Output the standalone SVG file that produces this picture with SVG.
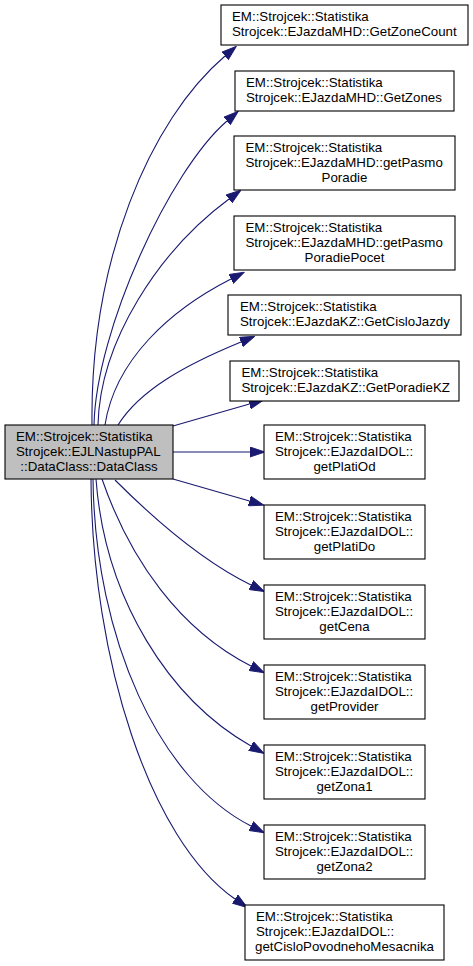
<svg xmlns="http://www.w3.org/2000/svg" width="473" height="966" viewBox="0 0 473 966">
<style>
.box{fill:#ffffff;stroke:#000000;stroke-width:1.1}
.main{fill:#bfbfbf;stroke:#000000;stroke-width:1.1}
text{font-family:"Liberation Sans",Arial,sans-serif;font-size:13.3px;fill:#000000}
.c{text-anchor:middle}
.e{fill:none;stroke:#191970;stroke-width:1.1}
</style>
<defs>
<marker id="ah" markerUnits="userSpaceOnUse" markerWidth="15" markerHeight="11" viewBox="0 0 14 10" refX="0" refY="5" orient="auto">
<path d="M0,0.3 L14,5 L0,9.7 z" fill="#191970" stroke="#191970" stroke-width="0.8"/>
</marker>
</defs>
<rect width="473" height="966" fill="#ffffff"/>
<g id="connectors">
<path class="e" marker-end="url(#ah)" d="M92,425 C90,260 150,120 225,56"/>
<path class="e" marker-end="url(#ah)" d="M94,425 C96,330 170,170 227,121"/>
<path class="e" marker-end="url(#ah)" d="M98,425 C100,340 160,250 229,199"/>
<path class="e" marker-end="url(#ah)" d="M105,425 C115,360 170,310 231,279"/>
<path class="e" marker-end="url(#ah)" d="M118,425 C140,390 185,365 241,342"/>
<path class="e" marker-end="url(#ah)" d="M173,426 L249.5,404"/>
<path class="e" marker-end="url(#ah)" d="M173,452 L250,452"/>
<path class="e" marker-end="url(#ah)" d="M173,479 L249.5,501"/>
<path class="e" marker-end="url(#ah)" d="M115,480 C150,515 200,560 251,585"/>
<path class="e" marker-end="url(#ah)" d="M102,479 C130,560 180,630 251,666"/>
<path class="e" marker-end="url(#ah)" d="M96,479 C105,600 170,700 251,746"/>
<path class="e" marker-end="url(#ah)" d="M93,479 C95,640 160,780 251,826"/>
<path class="e" marker-end="url(#ah)" d="M91,479 C92,660 150,840 235,899"/>
</g>
<g id="main">
<rect class="main" x="5" y="425" width="168" height="54"/>
<text x="16" y="441">EM::Strojcek::Statistika</text>
<text x="16" y="456">Strojcek::EJLNastupPAL</text>
<text class="c" x="89" y="471">::DataClass::DataClass</text>
</g>
<g id="n1">
<rect class="box" x="221" y="5" width="247" height="40"/>
<text x="232" y="21">EM::Strojcek::Statistika</text>
<text x="232" y="36">Strojcek::EJazdaMHD::GetZoneCount</text>
</g>
<g id="n2">
<rect class="box" x="235" y="71" width="219" height="40"/>
<text x="246" y="87">EM::Strojcek::Statistika</text>
<text x="246" y="102">Strojcek::EJazdaMHD::GetZones</text>
</g>
<g id="n3">
<rect class="box" x="234" y="136" width="221" height="54"/>
<text x="245.5" y="152">EM::Strojcek::Statistika</text>
<text x="245.5" y="167">Strojcek::EJazdaMHD::getPasmo</text>
<text class="c" x="344.5" y="182">Poradie</text>
</g>
<g id="n4">
<rect class="box" x="234" y="216" width="221" height="54"/>
<text x="245.5" y="232">EM::Strojcek::Statistika</text>
<text x="245.5" y="247">Strojcek::EJazdaMHD::getPasmo</text>
<text class="c" x="344.5" y="262">PoradiePocet</text>
</g>
<g id="n5">
<rect class="box" x="228" y="295" width="233" height="40"/>
<text x="240" y="311">EM::Strojcek::Statistika</text>
<text x="240" y="326">Strojcek::EJazdaKZ::GetCisloJazdy</text>
</g>
<g id="n6">
<rect class="box" x="230" y="361" width="229" height="40"/>
<text x="241.5" y="377">EM::Strojcek::Statistika</text>
<text x="241.5" y="392">Strojcek::EJazdaKZ::GetPoradieKZ</text>
</g>
<g id="n7">
<rect class="box" x="264" y="425" width="161" height="54"/>
<text x="275" y="441">EM::Strojcek::Statistika</text>
<text x="275" y="456">Strojcek::EJazdaIDOL::</text>
<text class="c" x="344.5" y="471">getPlatiOd</text>
</g>
<g id="n8">
<rect class="box" x="264" y="505" width="161" height="54"/>
<text x="275" y="521">EM::Strojcek::Statistika</text>
<text x="275" y="536">Strojcek::EJazdaIDOL::</text>
<text class="c" x="344.5" y="551">getPlatiDo</text>
</g>
<g id="n9">
<rect class="box" x="264" y="585" width="161" height="54"/>
<text x="275" y="601">EM::Strojcek::Statistika</text>
<text x="275" y="616">Strojcek::EJazdaIDOL::</text>
<text class="c" x="344.5" y="631">getCena</text>
</g>
<g id="n10">
<rect class="box" x="264" y="665" width="161" height="54"/>
<text x="275" y="681">EM::Strojcek::Statistika</text>
<text x="275" y="696">Strojcek::EJazdaIDOL::</text>
<text class="c" x="344.5" y="711">getProvider</text>
</g>
<g id="n11">
<rect class="box" x="264" y="745" width="161" height="54"/>
<text x="275" y="761">EM::Strojcek::Statistika</text>
<text x="275" y="776">Strojcek::EJazdaIDOL::</text>
<text class="c" x="344.5" y="791">getZona1</text>
</g>
<g id="n12">
<rect class="box" x="264" y="825" width="161" height="54"/>
<text x="275" y="841">EM::Strojcek::Statistika</text>
<text x="275" y="856">Strojcek::EJazdaIDOL::</text>
<text class="c" x="344.5" y="871">getZona2</text>
</g>
<g id="n13">
<rect class="box" x="245" y="905" width="199" height="55"/>
<text x="256" y="921">EM::Strojcek::Statistika</text>
<text x="256" y="936">Strojcek::EJazdaIDOL::</text>
<text class="c" x="344.5" y="951">getCisloPovodnehoMesacnika</text>
</g>
</svg>
